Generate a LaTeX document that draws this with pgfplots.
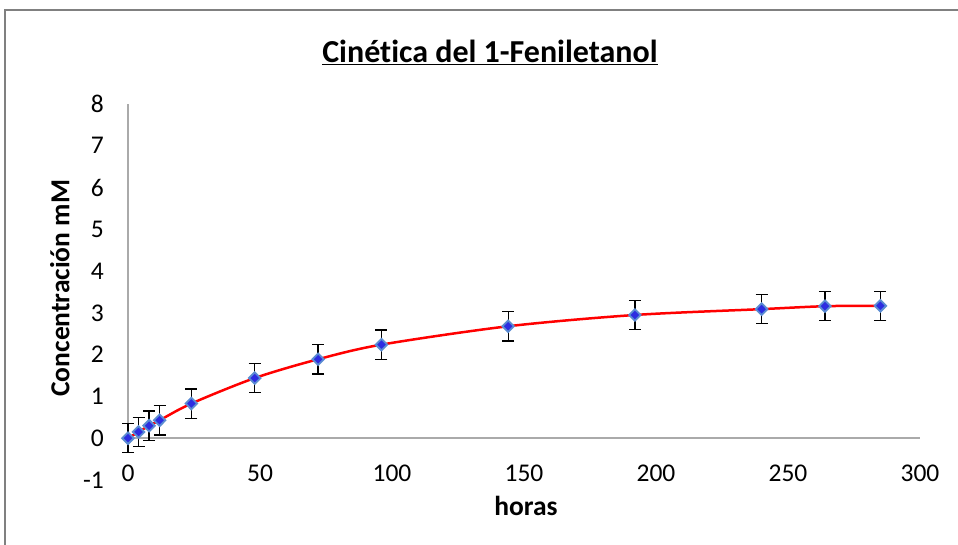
\documentclass[border=0pt]{standalone}
\usepackage{fontspec}
\setmainfont{Carlito}[Ligatures=NoCommon]
\usepackage{pgfplots}
\pgfplotsset{compat=1.18}
\usepackage{pgfplotstable}
\definecolor{mkfill}{RGB}{45,45,225}
\definecolor{mkdraw}{RGB}{90,140,210}
\definecolor{axgray}{RGB}{170,170,170}
\definecolor{framegray}{RGB}{128,128,128}
\pgfplotstableread{
x y e
0 0 0.35
4 0.15 0.35
8 0.30 0.35
12 0.43 0.35
24 0.83 0.35
48 1.44 0.35
72 1.89 0.35
96 2.24 0.35
144 2.68 0.35
192 2.95 0.35
240 3.09 0.35
264 3.16 0.35
285 3.17 0.35
}\datatable
\begin{document}
\begin{tikzpicture}[x=1pt,y=1pt]
\fill[white] (0,0) rectangle (958,545);
\draw[framegray, line width=2pt] (5,0) -- (5,535) -- (958,535);
\begin{axis}[
  at={(128pt,65pt)}, anchor=south west,
  scale only axis, width=792pt, height=376pt,
  xmin=0, xmax=300, ymin=-1, ymax=8,
  axis line style={draw=none},
  tick style={draw=none},
  major tick length=0pt,
  xtick={0,50,...,300}, ytick={-1,0,...,8},
  /pgf/number format/assume math mode=true,
  ticklabel style={font=\fontsize{25.5}{25.5}\selectfont, inner sep=0pt},
  xticklabel style={anchor=center, yshift=7pt},
  yticklabel style={anchor=east, xshift=-24pt},
  xlabel={\textbf{horas}},
  ylabel={\textbf{Concentración mM}},
  label style={font=\fontsize{27.5}{27.5}\selectfont},
  xlabel style={at={(axis description cs:0.5025,-0.069)}, anchor=center},
  ylabel style={at={(axis description cs:-0.086,0.51)}, anchor=center},
  clip=false,
]
\draw[axgray, line width=1.5pt] (axis cs:0,0) -- (axis cs:300,0);
\draw[axgray, line width=1.5pt] (axis cs:0,0) -- (axis cs:0,8);
\addplot[red, line width=2.5pt, smooth, no markers] table[x=x,y=y] {\datatable};
\addplot[only marks, mark=diamond*, mark size=5.8pt,
  mark options={xscale=1.33, fill=mkfill, draw=mkdraw, line width=1.8pt},
  error bars/.cd, y dir=both, y explicit,
  error bar style={black, line width=1.3pt},
  error mark options={rotate=90, mark size=6pt, black, line width=1.3pt}]
  table[x=x, y=y, y error=e] {\datatable};
\node[anchor=base, font=\bfseries\fontsize{32}{32}\selectfont] at (axis description cs:0.457,1.110) {\underline{Cinética del 1-Feniletanol}};
\end{axis}
\pgfresetboundingbox
\useasboundingbox (0,0) rectangle (958,545);
\end{tikzpicture}
\end{document}
